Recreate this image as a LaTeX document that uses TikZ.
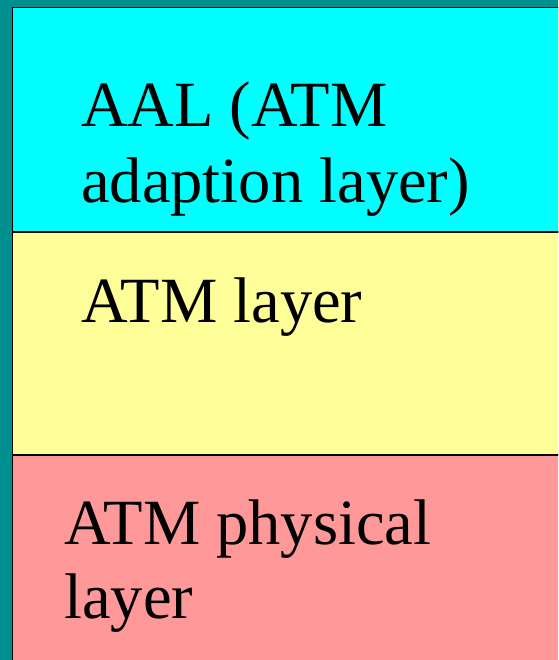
\documentclass[tikz,border=0pt]{standalone}
\usepackage{fontspec}
\setmainfont{Liberation Serif}
\definecolor{tealbg}{RGB}{0,143,143}
\definecolor{cyanbox}{RGB}{0,255,255}
\definecolor{yellowbox}{RGB}{255,255,153}
\definecolor{pinkbox}{RGB}{255,153,153}
\tikzset{
  layerbox/.style={draw=black, line width=1.8pt},
  lbl/.style={anchor=base west, inner sep=0pt, font=\fontsize{64.5}{76}\selectfont}
}
\begin{document}
\begin{tikzpicture}[x=1pt,y=-1pt]
\useasboundingbox (0,0) rectangle (558,660);
\fill[tealbg] (0,0) rectangle (558,660);
\begin{scope}
\clip (0,0) rectangle (558,660);
\filldraw[layerbox, fill=cyanbox] (12.5,7.5) rectangle (570,232);
\filldraw[layerbox, fill=yellowbox] (12.5,232) rectangle (570,455);
\filldraw[layerbox, fill=pinkbox] (12.5,455) rectangle (570,680);
\end{scope}
\node[lbl] (aal1) at (81,127) {AAL (ATM};
\node[lbl] (aal2) at (81,203) {adaption layer)};
\node[lbl] (atm) at (81,322) {ATM layer};
\node[lbl] (phy1) at (64,544) {ATM physical};
\node[lbl] (phy2) at (64,618) {layer};
\end{tikzpicture}
\end{document}
